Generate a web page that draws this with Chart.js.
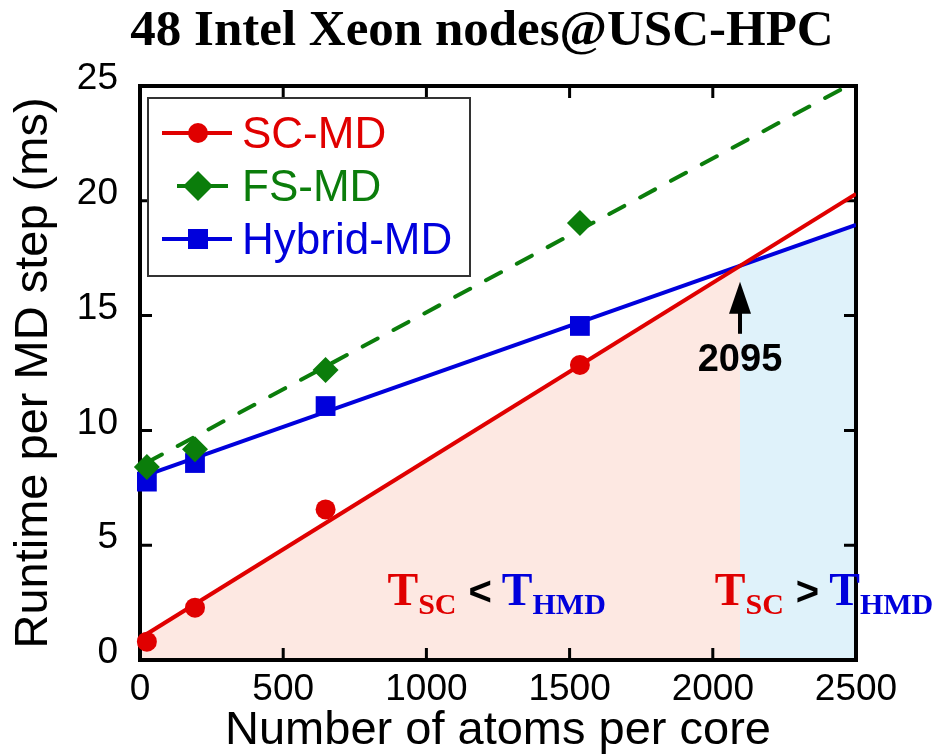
<!DOCTYPE html>
<html>
<head>
<meta charset="utf-8">
<script src="https://cdn.jsdelivr.net/npm/chart.js@4/dist/chart.umd.min.js"></script>
<style>
  html, body { margin: 0; padding: 0; background: #ffffff; }
  #wrap { width: 934px; height: 755px; }
</style>
</head>
<body>
<div id="wrap"><canvas id="c" width="934" height="755"></canvas></div>
<script>
// Measured runtimes (ms per MD step) against atoms per core
const atomsPerCore = [24, 192, 648, 1536];
const scMD = [0.80, 2.28, 6.56, 12.85];
const fsMD = [8.41, 9.18, 12.63, 19.03];
const hybridMD = [7.77, 8.58, 11.06, 14.55];

// Linear fits, given by their end points
const scFitX = [0, 2500];
const scFitY = [0.95, 20.3];
const fsFitX = [24, 2500];
const fsFitY = [8.6, 25.2];
const hybridFitX = [0, 2500];
const hybridFitY = [7.95, 18.95];

// Crossover of the SC-MD and Hybrid-MD fits
const crossoverX = 2095;
const crossoverY = 17.17;

const xTicks = [0, 500, 1000, 1500, 2000, 2500];
const yTicks = [0, 5, 10, 15, 20, 25];

const RED = '#e00000';
const GREEN = '#0b7d0b';
const BLUE = '#0000dc';
const PINK_FILL = '#fde8e2';
const CYAN_FILL = '#dff2fa';
const SANS = "'Liberation Sans', Arial, Helvetica, sans-serif";
const SERIF = "'Liberation Serif', 'Times New Roman', Times, serif";

const toPts = (xs, ys) => xs.map((x, i) => ({ x: x, y: ys[i] }));

// Shaded regions under the faster method, then the frame with inward ticks
const backdropPlugin = {
  id: 'backdrop',
  beforeDatasetsDraw(chart) {
    const { ctx, chartArea: a, scales: { x, y } } = chart;
    ctx.save();
    // SC-MD faster region
    ctx.fillStyle = PINK_FILL;
    ctx.beginPath();
    ctx.moveTo(x.getPixelForValue(scFitX[0]), y.getPixelForValue(0));
    ctx.lineTo(x.getPixelForValue(scFitX[0]), y.getPixelForValue(scFitY[0]));
    ctx.lineTo(x.getPixelForValue(crossoverX), y.getPixelForValue(crossoverY));
    ctx.lineTo(x.getPixelForValue(crossoverX), y.getPixelForValue(0));
    ctx.closePath();
    ctx.fill();
    // Hybrid-MD faster region
    ctx.fillStyle = CYAN_FILL;
    ctx.beginPath();
    ctx.moveTo(x.getPixelForValue(crossoverX), y.getPixelForValue(0));
    ctx.lineTo(x.getPixelForValue(crossoverX), y.getPixelForValue(crossoverY));
    ctx.lineTo(x.getPixelForValue(hybridFitX[1]), y.getPixelForValue(hybridFitY[1]));
    ctx.lineTo(x.getPixelForValue(hybridFitX[1]), y.getPixelForValue(0));
    ctx.closePath();
    ctx.fill();

    // frame
    ctx.strokeStyle = '#000';
    ctx.lineWidth = 4;
    ctx.strokeRect(a.left, a.top, a.right - a.left, a.bottom - a.top);

    // inward ticks on all four sides
    const len = 12;
    ctx.lineWidth = 3;
    ctx.beginPath();
    xTicks.slice(1, -1).forEach(v => {
      const px = x.getPixelForValue(v);
      ctx.moveTo(px, a.bottom); ctx.lineTo(px, a.bottom - len);
      ctx.moveTo(px, a.top); ctx.lineTo(px, a.top + len);
    });
    yTicks.slice(1, -1).forEach(v => {
      const py = y.getPixelForValue(v);
      ctx.moveTo(a.left, py); ctx.lineTo(a.left + len, py);
      ctx.moveTo(a.right, py); ctx.lineTo(a.right - len, py);
    });
    ctx.stroke();
    ctx.restore();
  }
};

// Draw one run of text made of plain and subscript parts
function drawRun(ctx, x0, base, parts) {
  let x = x0;
  parts.forEach(p => {
    ctx.font = 'bold ' + p.size + 'px ' + (p.family || SERIF);
    ctx.fillStyle = p.color;
    x += p.gap || 0;
    ctx.fillText(p.text, x, base + (p.sub ? 9 : 0));
    x += ctx.measureText(p.text).width;
  });
}

function regimeParts(sign) {
  return [
    { text: 'T', size: 46, color: RED },
    { text: 'SC', size: 30, color: RED, sub: true },
    { text: sign, size: 40, color: '#000', family: SANS, gap: 12 },
    { text: 'T', size: 46, color: BLUE, gap: 10 },
    { text: 'HMD', size: 30, color: BLUE, sub: true }
  ];
}

const annotationPlugin = {
  id: 'notes',
  afterDraw(chart) {
    const { ctx, scales: { x, y } } = chart;
    ctx.save();

    // chart heading
    ctx.font = 'bold 51px ' + SERIF;
    ctx.fillStyle = '#000';
    ctx.textAlign = 'center';
    ctx.textBaseline = 'alphabetic';
    ctx.fillText('48 Intel Xeon nodes@USC-HPC', 482, 45);

    // arrow at the crossover
    const ax = x.getPixelForValue(crossoverX);
    const ay = y.getPixelForValue(crossoverY);
    const tip = ay + 16;
    ctx.fillStyle = '#000';
    ctx.beginPath();
    ctx.moveTo(ax, tip);
    ctx.lineTo(ax - 11, tip + 32);
    ctx.lineTo(ax + 11, tip + 32);
    ctx.closePath();
    ctx.fill();
    ctx.fillRect(ax - 2, tip + 30, 4, 22);
    ctx.font = 'bold 38px ' + SANS;
    ctx.textAlign = 'center';
    ctx.fillText(String(crossoverX), ax, tip + 89);

    // regime labels
    ctx.textAlign = 'left';
    drawRun(ctx, x.getPixelForValue(864), y.getPixelForValue(2.4), regimeParts('<'));
    drawRun(ctx, x.getPixelForValue(2007), y.getPixelForValue(2.4), regimeParts('>'));

    // legend box
    ctx.fillStyle = '#fff';
    ctx.fillRect(148, 98, 322, 178);
    ctx.strokeStyle = '#333';
    ctx.lineWidth = 2;
    ctx.strokeRect(148, 98, 322, 178);

    const rows = [
      { label: 'SC-MD', color: RED, y: 133, x1: 162, x2: 232, mark: 'circle' },
      { label: 'FS-MD', color: GREEN, y: 186, x1: 177, x2: 228, mark: 'diamond' },
      { label: 'Hybrid-MD', color: BLUE, y: 239, x1: 162, x2: 232, mark: 'square' }
    ];
    rows.forEach(r => {
      ctx.strokeStyle = r.color;
      ctx.fillStyle = r.color;
      ctx.lineWidth = 4;
      ctx.beginPath();
      ctx.moveTo(r.x1, r.y); ctx.lineTo(r.x2, r.y);
      ctx.stroke();
      const mx = 198;
      ctx.beginPath();
      if (r.mark === 'circle') {
        ctx.arc(mx, r.y, 10, 0, Math.PI * 2);
      } else if (r.mark === 'diamond') {
        ctx.moveTo(mx, r.y - 15); ctx.lineTo(mx + 15, r.y);
        ctx.lineTo(mx, r.y + 15); ctx.lineTo(mx - 15, r.y);
        ctx.closePath();
      } else {
        ctx.rect(mx - 10, r.y - 10, 20, 20);
      }
      ctx.fill();
      ctx.font = '44px ' + SANS;
      ctx.textAlign = 'left';
      ctx.textBaseline = 'alphabetic';
      ctx.fillText(r.label, 242, r.y + 15);
    });
    ctx.restore();
  }
};

const fitLine = (pts, color, dash) => ({
  data: pts,
  showLine: true,
  borderColor: color,
  borderWidth: 4,
  borderDash: dash || [],
  borderCapStyle: dash ? 'round' : 'butt',
  pointRadius: 0,
  fill: false,
  order: 5
});

const markers = (ys, color, style, r) => ({
  data: toPts(atomsPerCore, ys),
  showLine: false,
  pointStyle: style,
  pointRadius: r,
  pointBackgroundColor: color,
  pointBorderColor: color,
  pointBorderWidth: 0,
  clip: false,
  order: 1
});

new Chart(document.getElementById('c'), {
  type: 'scatter',
  data: {
    datasets: [
      fitLine(toPts(scFitX, scFitY), RED),
      fitLine(toPts(hybridFitX, hybridFitY), BLUE),
      fitLine(toPts(fsFitX, fsFitY), GREEN, [17, 18]),
      markers(scMD, RED, 'circle', 10),
      markers(fsMD, GREEN, 'rectRot', 13),
      markers(hybridMD, BLUE, 'rect', 14)
    ]
  },
  options: {
    responsive: false,
    animation: false,
    devicePixelRatio: 1,
    layout: { padding: { top: 86, right: 78, left: 0, bottom: 0 } },
    plugins: {
      legend: { display: false },
      title: { display: false },
      tooltip: { enabled: false }
    },
    scales: {
      x: {
        type: 'linear',
        min: 0,
        max: 2500,
        afterBuildTicks: s => { s.ticks = xTicks.map(v => ({ value: v })); },
        afterFit: s => { s.height = 95; },
        grid: { display: false, drawTicks: false, tickLength: 0 },
        border: { display: false },
        ticks: {
          color: '#000',
          font: { family: SANS, size: 37 },
          padding: 8,
          maxRotation: 0,
          autoSkip: false,
          callback: v => String(v)
        },
        title: {
          display: true,
          text: 'Number of atoms per core',
          color: '#000',
          font: { family: SANS, size: 47, lineHeight: 1.03 },
          padding: { top: 0, bottom: 0 }
        }
      },
      y: {
        type: 'linear',
        min: 0,
        max: 25,
        afterBuildTicks: s => { s.ticks = yTicks.map(v => ({ value: v })); },
        afterFit: s => { s.width = 140; },
        grid: { display: false, drawTicks: false, tickLength: 0 },
        border: { display: false },
        ticks: {
          color: '#000',
          font: { family: SANS, size: 37 },
          padding: 22,
          labelOffset: -7,
          autoSkip: false,
          callback: v => String(v)
        },
        title: {
          display: true,
          text: 'Runtime per MD step (ms)',
          color: '#000',
          font: { family: SANS, size: 47, lineHeight: 1.45 },
          padding: { top: 0, bottom: 0 }
        }
      }
    }
  },
  plugins: [backdropPlugin, annotationPlugin]
});
</script>
</body>
</html>
